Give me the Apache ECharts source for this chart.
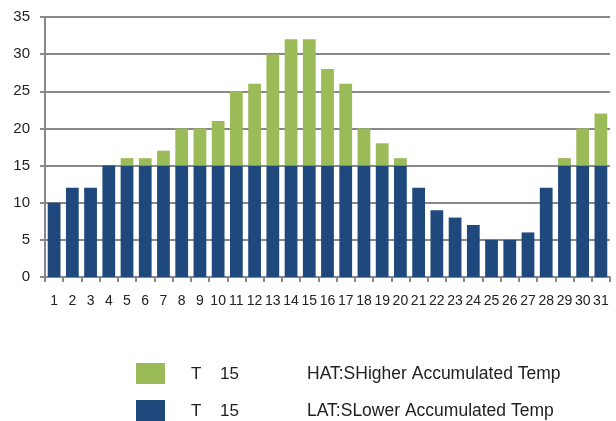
<!DOCTYPE html>
<html><head><meta charset="utf-8">
<script src="https://cdn.jsdelivr.net/npm/echarts@6/dist/echarts.min.js"></script>
<style>html,body{margin:0;padding:0;background:#fff}#c{width:616px;height:421px}</style>
</head><body><div id="c"></div>
<script>
const categories = ['1','2','3','4','5','6','7','8','9','10','11','12','13','14','15','16','17','18','19','20','21','22','23','24','25','26','27','28','29','30','31'];
const lowerValues = [10,12,12,15,15,15,15,15,15,15,15,15,15,15,15,15,15,15,15,15,12,9,8,7,5,5,6,12,15,15,15];
const higherValues = [0,0,0,0,1,1,2,5,5,6,10,11,15,17,17,13,11,5,3,1,0,0,0,0,0,0,0,0,1,5,7];
const yTicks = [0,5,10,15,20,25,30,35];
const legendRows = [
  {color:'#9BBB59', name:'HAT:SHigher Accumulated Temp'},
  {color:'#1F497D', name:'LAT:SLower Accumulated Temp'}
];
const FONT = '"Liberation Sans Narrow","Liberation Sans",sans-serif';
const chart = echarts.init(document.getElementById('c'));
const g = [];
legendRows.forEach((r,i)=>{
  const y0 = i===0 ? 363 : 400;
  g.push({type:'rect', shape:{x:136,y:y0,width:29,height:21}, style:{fill:r.color}});
  g.push({type:'text', x:191, y:y0+11, style:{text:'T', font:'17px "Liberation Sans",sans-serif', fill:'#222', textVerticalAlign:'middle'}});
  g.push({type:'text', x:220, y:y0+11, style:{text:'15', font:'17px "Liberation Sans",sans-serif', fill:'#222', textVerticalAlign:'middle'}});
  g.push({type:'text', x:307, y:y0+11, style:{text:r.name, font:'17.5px "Liberation Sans",sans-serif', fill:'#222', textVerticalAlign:'middle'}});
});
chart.setOption({
  animation:false,
  grid:{left:45, right:6, top:17, bottom:144, containLabel:false},
  xAxis:{type:'category', data:categories,
    axisLine:{lineStyle:{color:'#888888', width:2}},
    axisTick:{show:true, alignWithLabel:false, length:5, lineStyle:{color:'#888888', width:2}},
    axisLabel:{color:'#222', fontSize:14, fontFamily:FONT, margin:17, interval:0}},
  yAxis:{type:'value', min:yTicks[0], max:yTicks[yTicks.length-1], interval:5,
    axisLine:{show:true, lineStyle:{color:'#888888', width:2}},
    axisTick:{show:true, length:5, lineStyle:{color:'#888888', width:2}},
    axisLabel:{color:'#222', fontSize:15, fontFamily:FONT, margin:15},
    splitLine:{lineStyle:{color:'#888888', width:2}}},
  series:[
    {name:'LAT', type:'bar', stack:'t', data:lowerValues, barCategoryGap:'30%', itemStyle:{color:'#1F497D'}},
    {name:'HAT', type:'bar', stack:'t', data:higherValues, itemStyle:{color:'#9BBB59'}}
  ],
  graphic:g
});
</script></body></html>
